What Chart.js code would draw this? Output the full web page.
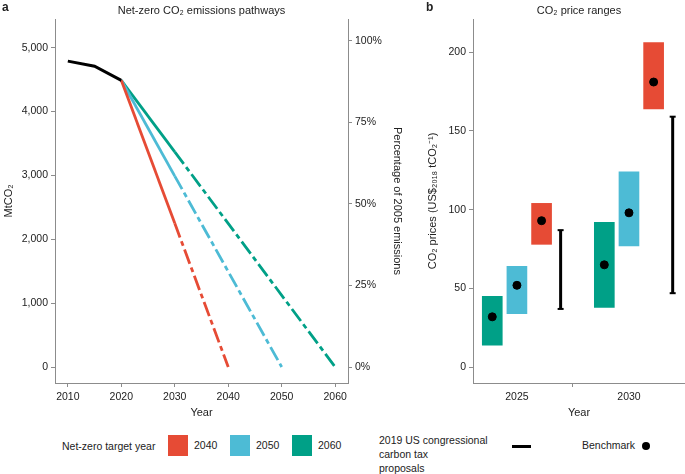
<!DOCTYPE html>
<html>
<head>
<meta charset="utf-8">
<script src="https://cdn.jsdelivr.net/npm/chart.js@4.4.1/dist/chart.umd.min.js"></script>
<style>
    body { margin: 0; background: #fff; font-family: "Liberation Sans", Arial, sans-serif; color: #222; }
    #wrap { position: relative; width: 685px; height: 474px; overflow: hidden; }
    canvas { position: absolute; top: 0; }
    .tag { position: absolute; top: 0; font-weight: bold; font-size: 12px; }
    .lg { position: absolute; font-size: 10.5px; line-height: 14px; }
    .sw { position: absolute; width: 20px; height: 21px; top: 435px; }
</style>
</head>
<body>
<div id="wrap">
    <canvas id="pathways" width="410" height="420" style="left:0"></canvas>
    <canvas id="prices" width="275" height="420" style="left:410px"></canvas>
    <div class="tag" style="left:2px">a</div>
    <div class="tag" style="left:426px">b</div>

    <div class="lg" style="left:62px; top:439px">Net-zero target year</div>
    <div class="sw" style="left:168px; background:#E64B35"></div>
    <div class="lg" style="left:194px; top:438px">2040</div>
    <div class="sw" style="left:230px; background:#4DBBD5"></div>
    <div class="lg" style="left:256px; top:438px">2050</div>
    <div class="sw" style="left:292px; background:#00A087"></div>
    <div class="lg" style="left:318px; top:438px">2060</div>
    <div class="lg" style="left:379px; top:433px">2019 US congressional<br>carbon tax<br>proposals</div>
    <div style="position:absolute; left:512px; top:445px; width:19px; height:3px; background:#000"></div>
    <div class="lg" style="left:582px; top:438px">Benchmark</div>
    <div style="position:absolute; left:642px; top:442px; width:8px; height:8px; border-radius:50%; background:#000"></div>
</div>
<script>
// Panel a: emissions pathways
const histYears = [2010, 2015, 2020];
const histEmissions = [4790, 4710, 4490];
const targetYears = [2040, 2050, 2060];
const emissions2030 = [2250, 2990, 3370];
const emissions2005 = 5110;
const pathYTicks = [0, 1000, 2000, 3000, 4000, 5000];
const pctTicks = [0, 25, 50, 75, 100];
const pathXTicks = [2010, 2020, 2030, 2040, 2050, 2060];

// Panel b: price ranges
const priceYears = [2025, 2030];
const low2040 = [78, 164];
const high2040 = [104, 206];
const bench2040 = [93, 181];
const low2050 = [34, 77];
const high2050 = [64, 124];
const bench2050 = [52, 98];
const low2060 = [14, 38];
const high2060 = [45, 92];
const bench2060 = [32, 65];
const taxLow = [37, 47];
const taxHigh = [87, 159];
const priceYTicks = [0, 50, 100, 150, 200];

const colors = ['#E64B35', '#4DBBD5', '#00A087'];
const axisGrey = '#8c8c8c';
const textColor = '#222';
const tickFont = { family: '"Liberation Sans", Arial, sans-serif', size: 10.5 };
const titleFont = { family: '"Liberation Sans", Arial, sans-serif', size: 11 };
const dashDot = [15, 4, 5, 4];

Chart.defaults.color = textColor;
Chart.defaults.font.family = tickFont.family;

const panelTitle = {
    id: 'panelTitle',
    afterDraw(chart, args, opts) {
        const { ctx, chartArea } = chart;
        ctx.save();
        ctx.font = '11px "Liberation Sans", Arial, sans-serif';
        ctx.fillStyle = textColor;
        ctx.textAlign = 'center';
        ctx.textBaseline = 'middle';
        ctx.fillText(opts.text, (chartArea.left + chartArea.right) / 2, 11);
        ctx.restore();
    }
};

function fixedTicks(list) {
    return function(scale) { scale.ticks = list.map(v => ({ value: v })); };
}

function axisStyle(extra) {
    return Object.assign({
        grid: { drawOnChartArea: false, drawTicks: true, tickLength: 4, color: axisGrey },
        border: { display: true, color: axisGrey, width: 1 },
        ticks: { font: tickFont, color: textColor, padding: 3, maxRotation: 0 }
    }, extra);
}

// x axes: fixed height and no extra side padding
function fitX(s) {
    s.height = 37;
    s.paddingLeft = 0;
    s.paddingRight = 0;
}

// ---- panel a ----
const yMin = -250, yMax = 5450;
const pathDatasets = [{
    data: histYears.map((x, i) => ({ x: x, y: histEmissions[i] })),
    borderColor: '#000',
    borderWidth: 3
}];
targetYears.forEach((t, i) => {
    pathDatasets.push({
        data: [
            { x: histYears[histYears.length - 1], y: histEmissions[histEmissions.length - 1] },
            { x: 2030, y: emissions2030[i] },
            { x: t, y: 0 }
        ],
        borderColor: colors[i],
        borderWidth: 2.8,
        segment: {
            borderDash: ctx => ctx.p0.parsed.x >= 2030 ? dashDot : undefined
        }
    });
});

new Chart(document.getElementById('pathways'), {
    type: 'line',
    data: { datasets: pathDatasets },
    options: {
        responsive: false,
        animation: false,
        layout: { padding: { top: 19, left: 0, right: 0, bottom: 0 } },
        elements: { point: { radius: 0 }, line: { tension: 0, borderCapStyle: 'butt' } },
        plugins: {
            legend: { display: false },
            tooltip: { enabled: false },
            panelTitle: { text: 'Net-zero CO\u2082 emissions pathways' }
        },
        scales: {
            x: axisStyle({
                type: 'linear', min: 2007.6, max: 2062.4,
                afterBuildTicks: fixedTicks(pathXTicks),
                afterFit: fitX,
                ticks: { font: tickFont, color: textColor, padding: 4, callback: v => String(v) },
                title: { display: true, text: 'Year', font: titleFont, color: textColor, padding: { top: 0, bottom: 0 } }
            }),
            y: axisStyle({
                type: 'linear', position: 'left', min: yMin, max: yMax,
                afterBuildTicks: fixedTicks(pathYTicks),
                afterFit: s => { s.width = 55; },
                ticks: { font: tickFont, color: textColor, padding: 3, callback: v => v.toLocaleString('en-US') },
                title: { display: true, text: 'MtCO\u2082', font: titleFont, color: textColor, padding: { top: 2, bottom: 0 } }
            }),
            y2: axisStyle({
                type: 'linear', position: 'right',
                min: yMin / emissions2005 * 100, max: yMax / emissions2005 * 100,
                afterBuildTicks: fixedTicks(pctTicks),
                afterFit: s => { s.width = 62; },
                ticks: { font: tickFont, color: textColor, padding: 3, callback: v => v + '%' },
                title: { display: true, text: 'Percentage of 2005 emissions', font: titleFont, color: textColor, padding: { top: 6, bottom: 0 } }
            })
        }
    },
    plugins: [panelTitle]
});

// ---- panel b ----
const dodge = [1.1, 0, -1.1];   // 2040, 2050, 2060 offsets in years
const taxDodge = 1.95;
const lows = [low2040, low2050, low2060];
const highs = [high2040, high2050, high2060];
const benches = [bench2040, bench2050, bench2060];

const priceDatasets = [];
colors.forEach((c, i) => {
    priceDatasets.push({
        type: 'bar',
        data: priceYears.map((yr, j) => ({ x: yr + dodge[i], y: [lows[i][j], highs[i][j]] })),
        backgroundColor: c,
        borderWidth: 0,
        barThickness: 20,
        grouped: false,
        order: 3
    });
});
priceYears.forEach((yr, j) => {
    priceDatasets.push({
        type: 'line',
        data: [{ x: yr + taxDodge, y: taxLow[j] }, { x: yr + taxDodge, y: taxHigh[j] }],
        borderColor: '#000',
        borderWidth: 3,
        pointStyle: 'line',
        pointRadius: 3,
        pointBorderWidth: 2,
        pointBorderColor: '#000',
        order: 2
    });
});
priceDatasets.push({
    type: 'scatter',
    data: colors.flatMap((c, i) => priceYears.map((yr, j) => ({ x: yr + dodge[i], y: benches[i][j] }))),
    backgroundColor: '#000',
    borderColor: '#000',
    pointRadius: 4,
    order: 0
});

new Chart(document.getElementById('prices'), {
    type: 'bar',
    data: { datasets: priceDatasets },
    options: {
        responsive: false,
        animation: false,
        layout: { autoPadding: false, padding: { top: 19, left: 0, right: 0, bottom: 0 } },
        plugins: {
            legend: { display: false },
            tooltip: { enabled: false },
            panelTitle: { text: 'CO\u2082 price ranges' }
        },
        scales: {
            x: axisStyle({
                type: 'linear', min: 2023.04, max: 2032.5, offset: false,
                afterBuildTicks: fixedTicks(priceYears),
                afterFit: fitX,
                ticks: { font: tickFont, color: textColor, padding: 4, callback: v => String(v) },
                title: { display: true, text: 'Year', font: titleFont, color: textColor, padding: { top: 0, bottom: 0 } }
            }),
            y: axisStyle({
                type: 'linear', position: 'left', min: -10, max: 221,
                afterBuildTicks: fixedTicks(priceYTicks),
                afterFit: s => { s.width = 63; },
                ticks: { font: tickFont, color: textColor, padding: 3 },
                title: { display: true, text: 'CO\u2082 prices (US$\u2082\u2080\u2081\u2088 tCO\u2082\u207B\u00B9)', font: titleFont, color: textColor, padding: { top: 16, bottom: 0 } }
            })
        }
    },
    plugins: [panelTitle]
});
</script>
</body>
</html>
